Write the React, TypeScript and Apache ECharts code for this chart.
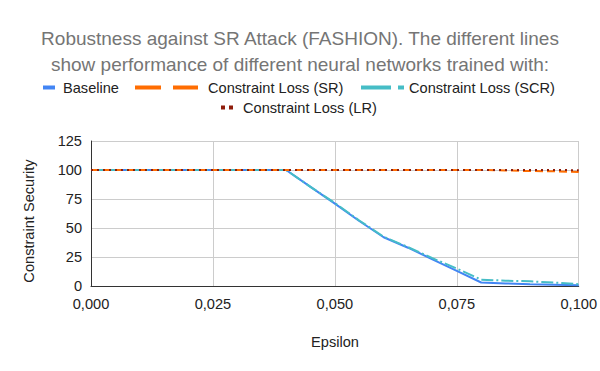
import React, { useEffect, useRef } from "react";
import * as echarts from "echarts";

const epsilon = [0, 0.005, 0.01, 0.015, 0.02, 0.025, 0.03, 0.035, 0.04, 0.045, 0.05, 0.055, 0.06, 0.065, 0.07, 0.075, 0.08, 0.085, 0.09, 0.095, 0.1];
const baseline = [100, 100, 100, 100, 100, 100, 100, 100, 100, 85.5, 71, 56, 42, 33, 23, 13, 3, 2.2, 1.6, 1.1, 0.6];
const lossSR = [100, 100, 100, 100, 100, 100, 100, 100, 100, 100, 100, 100, 100, 100, 100, 100, 100, 99.6, 99.1, 98.9, 98.3];
const lossSCR = [100, 100, 100, 100, 100, 100, 100, 100, 100, 85.5, 71.5, 56.5, 42.5, 33.5, 24, 15, 5.5, 4.6, 4, 3, 1.5];
const lossLR = [100, 100, 100, 100, 100, 100, 100, 100, 100, 100, 100, 100, 100, 100, 100, 100, 100, 100, 100, 100, 99.8];
const seriesNames = ["Baseline", "Constraint Loss (SR)", "Constraint Loss (SCR)", "Constraint Loss (LR)"];
const yTicks = { min: 0, max: 125, interval: 25 };
const xTicks = { min: 0, max: 0.1, interval: 0.025 };

const FONT = "'Liberation Sans', Arial, sans-serif";
const COLORS = ["#4285f4", "#ff6d01", "#46bdc6", "#8f1d0b"];

const pairs = (ys: number[]) => epsilon.map((x, i) => [x, ys[i]]);

export default function App() {
  const ref = useRef<HTMLDivElement>(null);
  useEffect(() => {
    if (!ref.current) return;
    const chart = echarts.init(ref.current, null, { renderer: "svg" });
    const lt = (padLeft: number) => ({ color: "#222", fontSize: 14.6, fontFamily: FONT, padding: [0, 0, 0, padLeft] });
    chart.setOption({
      animation: false,
      backgroundColor: "#fff",
      title: {
        text: "Robustness against SR Attack (FASHION). The different lines\nshow performance of different neural networks trained with:",
        left: "center",
        top: 25,
        padding: 0,
        textStyle: { color: "#757575", fontSize: 19, fontWeight: "normal", fontFamily: FONT, lineHeight: 26 },
      },
      legend: [
        {
          left: 43, top: 80, padding: 0, itemWidth: 12, itemHeight: 4,
          data: [{ name: seriesNames[0], icon: "rect" }], textStyle: lt(3),
        },
        {
          left: 135, top: 80, padding: 0, itemWidth: 63, itemHeight: 4,
          data: [{ name: seriesNames[1], icon: "path://M0,0h26v4h-26z M38,0h25v4h-25z" }], textStyle: lt(5),
        },
        {
          left: 361, top: 80, padding: 0, itemWidth: 43, itemHeight: 4,
          data: [{ name: seriesNames[2], icon: "path://M0,0h30v4h-30z M37,0h6v4h-6z" }], textStyle: lt(0),
        },
        {
          left: 221, top: 100, padding: 0, itemWidth: 12, itemHeight: 4,
          data: [{ name: seriesNames[3], icon: "path://M0,0h4v4h-4z M8,0h4v4h-4z" }], textStyle: lt(5),
        },
      ],
      grid: { left: 91, right: 19, top: 141, bottom: 85 },
      xAxis: {
        type: "value",
        min: xTicks.min, max: xTicks.max, interval: xTicks.interval,
        axisLine: { show: true, lineStyle: { color: "#333", width: 1 } },
        axisTick: { show: false },
        splitLine: { show: true, lineStyle: { color: "#ccc" } },
        axisLabel: {
          color: "#222", fontSize: 14.6, fontFamily: FONT, margin: 10,
          formatter: (v: number) => v.toFixed(3).replace(".", ","),
        },
      },
      yAxis: {
        type: "value",
        min: yTicks.min, max: yTicks.max, interval: yTicks.interval,
        axisLine: { show: true, lineStyle: { color: "#333", width: 1 } },
        axisTick: { show: false },
        splitLine: { show: true, lineStyle: { color: "#ccc" } },
        axisLabel: { color: "#222", fontSize: 14.6, fontFamily: FONT, margin: 9 },
      },
      graphic: [
        {
          type: "text", x: 335, y: 342,
          style: { text: "Epsilon", fill: "#222", fontSize: 14.6, fontFamily: FONT, align: "center", verticalAlign: "middle" },
        },
        {
          type: "text", x: 29, y: 221, rotation: Math.PI / 2,
          style: { text: "Constraint Security", fill: "#222", fontSize: 14.6, fontFamily: FONT, align: "center", verticalAlign: "middle" },
        },
      ],
      series: [
        {
          name: seriesNames[0], type: "line", data: pairs(baseline), showSymbol: false, z: 2,
          lineStyle: { color: COLORS[0], width: 2 }, itemStyle: { color: COLORS[0] },
        },
        {
          name: seriesNames[2], type: "line", data: pairs(lossSCR), showSymbol: false, z: 3,
          lineStyle: { color: COLORS[2], width: 2, type: [12, 3, 2, 3] }, itemStyle: { color: COLORS[2] },
        },
        {
          name: seriesNames[1], type: "line", data: pairs(lossSR), showSymbol: false, z: 4,
          lineStyle: { color: COLORS[1], width: 2, type: [8, 4] }, itemStyle: { color: COLORS[1] },
        },
        {
          name: seriesNames[3], type: "line", data: pairs(lossLR), showSymbol: false, z: 5,
          lineStyle: { color: COLORS[3], width: 2, type: [2, 4] }, itemStyle: { color: COLORS[3] },
        },
      ],
    });
    return () => chart.dispose();
  }, []);
  return <div ref={ref} style={{ width: 600, height: 371, position: "absolute", left: 0, top: 0 }} />;
}
